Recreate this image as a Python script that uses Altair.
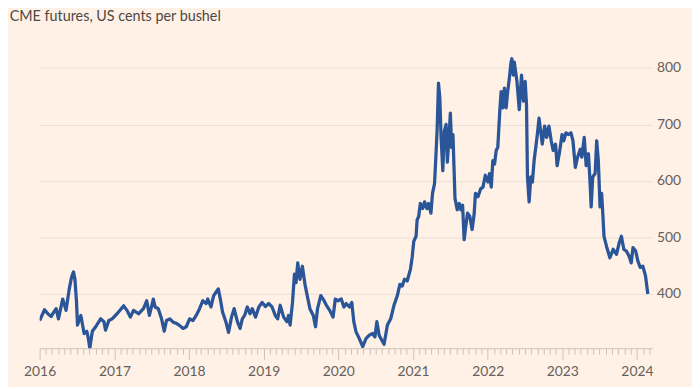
import altair as alt
import pandas as pd

# decimal-year positions and prices (US cents per bushel)
t = [2016.000, 2016.066, 2016.110, 2016.155, 2016.176, 2016.221, 2016.252, 2016.309, 2016.354, 2016.397,
     2016.428, 2016.454, 2016.473, 2016.494, 2016.507, 2016.552, 2016.596, 2016.632, 2016.653, 2016.672,
     2016.706, 2016.751, 2016.817, 2016.861, 2016.883, 2016.927, 2016.971, 2017.037, 2017.126, 2017.170,
     2017.215, 2017.258, 2017.325, 2017.391, 2017.434, 2017.470, 2017.523, 2017.546, 2017.589, 2017.633,
     2017.669, 2017.699, 2017.744, 2017.788, 2017.832, 2017.877, 2017.921, 2017.964, 2018.009, 2018.053,
     2018.097, 2018.142, 2018.185, 2018.229, 2018.252, 2018.295, 2018.331, 2018.362, 2018.393, 2018.420,
     2018.450, 2018.494, 2018.530, 2018.570, 2018.605, 2018.649, 2018.685, 2018.715, 2018.746, 2018.781,
     2018.817, 2018.848, 2018.891, 2018.936, 2018.980, 2019.024, 2019.069, 2019.113, 2019.156, 2019.188,
     2019.222, 2019.268, 2019.311, 2019.334, 2019.355, 2019.387, 2019.413, 2019.434, 2019.457, 2019.487,
     2019.519, 2019.554, 2019.589, 2019.620, 2019.665, 2019.695, 2019.722, 2019.766, 2019.797, 2019.841,
     2019.885, 2019.930, 2019.960, 2019.996, 2020.040, 2020.075, 2020.106, 2020.150, 2020.181, 2020.208,
     2020.238, 2020.282, 2020.327, 2020.371, 2020.415, 2020.460, 2020.490, 2020.517, 2020.547, 2020.592,
     2020.613, 2020.658, 2020.702, 2020.746, 2020.791, 2020.825, 2020.857, 2020.887, 2020.923, 2020.967,
     2020.989, 2021.011, 2021.042, 2021.056, 2021.077, 2021.099, 2021.130, 2021.156, 2021.188, 2021.209,
     2021.241, 2021.262, 2021.289, 2021.307, 2021.325, 2021.342, 2021.360, 2021.377, 2021.400, 2021.421,
     2021.444, 2021.461, 2021.483, 2021.501, 2021.519, 2021.536, 2021.550, 2021.563, 2021.593, 2021.620,
     2021.642, 2021.665, 2021.686, 2021.705, 2021.731, 2021.762, 2021.792, 2021.819, 2021.837, 2021.871,
     2021.907, 2021.938, 2021.969, 2022.004, 2022.026, 2022.049, 2022.070, 2022.093, 2022.115, 2022.136,
     2022.163, 2022.181, 2022.203, 2022.225, 2022.248, 2022.269, 2022.291, 2022.314, 2022.325, 2022.344,
     2022.358, 2022.393, 2022.424, 2022.454, 2022.481, 2022.503, 2022.521, 2022.534, 2022.556, 2022.579,
     2022.600, 2022.623, 2022.645, 2022.666, 2022.689, 2022.711, 2022.732, 2022.764, 2022.791, 2022.821,
     2022.852, 2022.878, 2022.910, 2022.931, 2022.967, 2022.997, 2023.020, 2023.050, 2023.086, 2023.117,
     2023.143, 2023.175, 2023.205, 2023.241, 2023.262, 2023.294, 2023.320, 2023.351, 2023.373, 2023.387,
     2023.408, 2023.440, 2023.461, 2023.483, 2023.506, 2023.527, 2023.540, 2023.559, 2023.593, 2023.638,
     2023.682, 2023.726, 2023.762, 2023.792, 2023.824, 2023.858, 2023.894, 2023.924, 2023.947, 2023.983,
     2024.013, 2024.044, 2024.079, 2024.115, 2024.146]

v = [353, 372, 365, 360, 365, 374, 356, 391, 371, 409,
     430, 439, 426, 386, 345, 362, 330, 334, 321, 304,
     334, 342, 356, 351, 336, 353, 356, 365, 379, 371,
     359, 371, 365, 374, 388, 362, 391, 377, 374, 356,
     334, 353, 356, 350, 348, 344, 339, 342, 356, 353,
     362, 374, 388, 383, 391, 377, 397, 403, 409, 391,
     368, 351, 332, 359, 374, 351, 339, 356, 362, 377,
     365, 374, 359, 377, 385, 378, 383, 377, 362, 356,
     380, 359, 351, 362, 345, 385, 435, 420, 455, 426,
     449, 417, 394, 374, 362, 342, 374, 397, 391, 380,
     371, 359, 391, 388, 391, 377, 383, 377, 385, 351,
     333, 321, 307, 321, 327, 330, 324, 351, 327, 316,
     311, 345, 356, 380, 397, 417, 414, 426, 423, 444,
     464, 493, 502, 531, 537, 560, 551, 563, 551, 560,
     543, 578, 595, 642, 694, 773, 747, 677, 618, 688,
     700, 633, 677, 720, 659, 682, 624, 569, 549, 560,
     549, 557, 496, 517, 543, 537, 514, 540, 578, 572,
     586, 589, 610, 598, 613, 589, 636, 630, 654, 659,
     723, 758, 729, 764, 729, 758, 781, 810, 816, 787,
     810, 776, 726, 787, 741, 776, 735, 607, 563, 607,
     598, 636, 659, 682, 711, 688, 665, 697, 677, 697,
     671, 654, 665, 627, 654, 682, 671, 685, 682, 685,
     671, 624, 642, 656, 642, 677, 627, 648, 595, 554,
     607, 613, 671, 636, 554, 578, 549, 502, 484, 464,
     479, 470, 490, 502, 479, 476, 467, 455, 482, 476,
     458, 447, 449, 432, 400]

y_ticks = [400, 500, 600, 700, 800]
title_text = "CME futures, US cents per bushel"

start = pd.Timestamp("2016-01-01")
dates = [start + pd.Timedelta(days=(x - 2016) * 365.25) for x in t]
df = pd.DataFrame({"date": dates, "price": v})

BG = "#FFF1E5"
LABEL = "#66605C"
FONT = "Lato"

chart = (
    alt.Chart(df)
    .mark_line(color="#2a5599", strokeWidth=3.3, strokeJoin="round", clip=True)
    .encode(
        x=alt.X(
            "date:T",
            scale=alt.Scale(
                domain=[alt.DateTime(year=2016, month=1, date=1),
                        alt.DateTime(year=2024, month=3, date=17)]
            ),
            axis=alt.Axis(
                title=None,
                tickCount={"interval": "month", "step": 1},
                labelExpr="month(datum.value) == 0 ? timeFormat(datum.value, '%Y') : ''",
                tickSize={"condition": {"test": "month(datum.value) == 0", "value": 11}, "value": 6},
                grid=False,
                domainColor="#ccc1b7",
                tickColor="#ccc1b7",
                labelColor=LABEL,
                labelFont=FONT,
                labelFontSize=14,
                labelPadding=6,
                labelOverlap=False,
                labelFlush=False,
            ),
        ),
        y=alt.Y(
            "price:Q",
            scale=alt.Scale(domain=[304, 846], nice=False, zero=False),
            axis=alt.Axis(
                orient="right",
                values=y_ticks,
                title=None,
                domain=False,
                ticks=False,
                grid=True,
                gridColor="#e9ded4",
                gridWidth=1,
                labelColor=LABEL,
                labelFont=FONT,
                labelFontSize=14,
                labelPadding=4,
            ),
        ),
    )
    .properties(
        width=620,
        height=310,
        background=BG,
        padding={"left": 32, "top": 32, "right": 40, "bottom": 37},
        autosize=alt.AutoSizeParams(type="none"),
        title=alt.TitleParams(
            text=title_text,
            anchor="start",
            dx=-14,
            offset=18,
            font=FONT,
            fontSize=14.5,
            fontWeight="normal",
            color="#4d4845",
        ),
    )
    .configure_view(stroke=None)
)

chart.save("out.html", embed_options={"renderer": "svg", "actions": False})
